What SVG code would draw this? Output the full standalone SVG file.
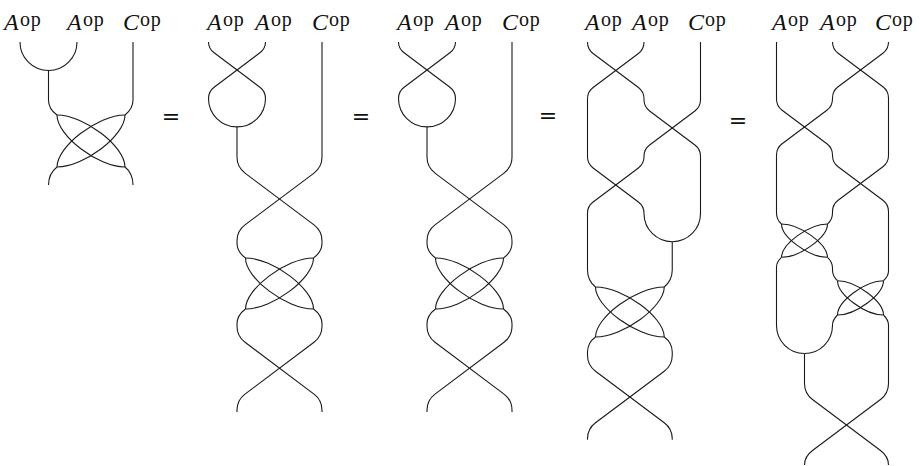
<svg xmlns="http://www.w3.org/2000/svg" xmlns:xlink="http://www.w3.org/1999/xlink" width="921" height="466" viewBox="0 0 921 466">
  <style>
    .s { fill: none; stroke: #1a1a1a; stroke-width: 1.1; stroke-linecap: butt; stroke-linejoin: round; }
    .lab { font-family: "Liberation Serif", "Times New Roman", serif; font-size: 24px; fill: #111; }
    .it { font-style: italic; }
    .sup { font-size: 20px; letter-spacing: 0.8px; }
    .eq { font-family: "DejaVu Serif", "Liberation Serif", serif; font-size: 22px; fill: #111; text-anchor: middle; }
  </style>
  <rect width="921" height="466" fill="#ffffff"/>

  <!-- Panel 1: cup, then double crossing -->
  <g id="panel1">
    <text class="lab"><tspan class="it" x="4" y="30">A</tspan><tspan class="sup" x="20" dy="-4">op</tspan></text>
    <text class="lab"><tspan class="it" x="67" y="30">A</tspan><tspan class="sup" x="83" dy="-4">op</tspan></text>
    <text class="lab"><tspan class="it" x="123" y="30">C</tspan><tspan class="sup" x="140" dy="-4">op</tspan></text>
    <g id="panel1-strands" class="s">
      <path d="M 20,42 A 28.5 28.5 0 0 0 77,42"/>
      <path d="M 48.5,70.5 L 48.5,100 C 48.5,107 52,111.5 57,115"/>
      <path d="M 133,42 L 133,100 C 133,107 129.5,111.5 125,115"/>
      <path d="M 57,115 C 84.2,115 125,146.2 125,167"/>
      <path d="M 57,115 C 57,135.8 97.8,167 125,167"/>
      <path d="M 125,115 C 97.8,115 57,146.2 57,167"/>
      <path d="M 125,115 C 125,135.8 84.2,167 57,167"/>
      <path d="M 57,167 C 52,171 48.5,177 48.5,185"/>
      <path d="M 125,167 C 130,171 133,177 133,185"/>
    </g>
  </g>

  <text class="eq" x="171" y="124">=</text>

  <!-- Panel 2: crossing into a merge, braid, double crossing, braid -->
  <g id="panel2">
    <text class="lab"><tspan class="it" x="207" y="30">A</tspan><tspan class="sup" x="223" dy="-4">op</tspan></text>
    <text class="lab"><tspan class="it" x="255" y="30">A</tspan><tspan class="sup" x="271" dy="-4">op</tspan></text>
    <text class="lab"><tspan class="it" x="312" y="30">C</tspan><tspan class="sup" x="329" dy="-4">op</tspan></text>
    <g id="panel2-strands" class="s">
      <path d="M 208.5,42 Q 208.5,48.6 214.1,52.8 L 259.9,87.2 Q 265.5,91.4 265.5,98.4 A 28.5 28.5 0 0 1 237,126.9"/>
      <path d="M 265.5,42 Q 265.5,48.6 259.9,52.8 L 214.1,87.2 Q 208.5,91.4 208.5,98.4 A 28.5 28.5 0 0 0 237,126.9"/>
      <path d="M 237,126.9 L 237,157.1 Q 237,167.1 245,173.1 L 314,224.9 Q 322,230.9 322,240.9 L 322,243 C 322,249 319,254 313.5,258"/>
      <path d="M 322,42 L 322,157.1 Q 322,167.1 314,173.1 L 245,224.9 Q 237,230.9 237,240.9 L 237,243 C 237,249 240,254 245.5,258"/>
      <path d="M 245.5,258 C 272.7,258 313.5,288.6 313.5,309"/>
      <path d="M 245.5,258 C 245.5,278.4 286.3,309 313.5,309"/>
      <path d="M 313.5,258 C 286.3,258 245.5,288.6 245.5,309"/>
      <path d="M 313.5,258 C 313.5,278.4 272.7,309 245.5,309"/>
      <path d="M 245.5,309 C 240,313 237,318 237,324 L 237,326.3 Q 237,336.3 245,342.3 L 314,394.1 Q 322,400.1 322,410.1 L 322,412"/>
      <path d="M 313.5,309 C 319,313 322,318 322,324 L 322,326.3 Q 322,336.3 314,342.3 L 245,394.1 Q 237,400.1 237,410.1 L 237,412"/>
    </g>
  </g>

  <text class="eq" x="361" y="124">=</text>

  <!-- Panel 3: same strands as panel 2 -->
  <g id="panel3">
    <text class="lab"><tspan class="it" x="397" y="30">A</tspan><tspan class="sup" x="413" dy="-4">op</tspan></text>
    <text class="lab"><tspan class="it" x="445" y="30">A</tspan><tspan class="sup" x="461" dy="-4">op</tspan></text>
    <text class="lab"><tspan class="it" x="502" y="30">C</tspan><tspan class="sup" x="519" dy="-4">op</tspan></text>
    <use xlink:href="#panel2-strands" href="#panel2-strands" transform="translate(190,0)"/>
  </g>

  <text class="eq" x="548" y="123">=</text>

  <!-- Panel 4: three braids, merge, double crossing, braid -->
  <g id="panel4">
    <text class="lab"><tspan class="it" x="585" y="30">A</tspan><tspan class="sup" x="601" dy="-4">op</tspan></text>
    <text class="lab"><tspan class="it" x="632" y="30">A</tspan><tspan class="sup" x="648" dy="-4">op</tspan></text>
    <text class="lab"><tspan class="it" x="688" y="30">C</tspan><tspan class="sup" x="705" dy="-4">op</tspan></text>
    <g id="panel4-strands" class="s">
      <path d="M 587.5,42 Q 587.5,49.3 593.1,53.5 L 638.4,87.5 Q 644,91.7 644,98.7 L 644,99.8 Q 644,106.8 649.6,111 L 694.9,145 Q 700.5,149.2 700.5,156.2 L 700.5,213.5 A 28.25 28.25 0 0 1 672.25,241.75"/>
      <path d="M 644,42 Q 644,49.3 638.4,53.5 L 593.1,87.5 Q 587.5,91.7 587.5,98.7 L 587.5,156.8 Q 587.5,163.8 593.1,168 L 638.4,202 Q 644,206.2 644,213.2 L 644,213.5 A 28.25 28.25 0 0 0 672.25,241.75"/>
      <path d="M 700.5,42 L 700.5,99.8 Q 700.5,106.8 694.9,111 L 649.6,145 Q 644,149.2 644,156.2 L 644,156.8 Q 644,163.8 638.4,168 L 593.1,202 Q 587.5,206.2 587.5,213.2 L 587.5,270 C 587.5,277 590.5,283 595.5,287"/>
      <path d="M 672.25,241.75 L 672.25,270 C 672.25,277 669,283 664.25,287"/>
      <path d="M 595.5,287 C 623,287 664.25,317 664.25,337"/>
      <path d="M 595.5,287 C 595.5,307 636.75,337 664.25,337"/>
      <path d="M 664.25,287 C 636.75,287 595.5,317 595.5,337"/>
      <path d="M 664.25,287 C 664.25,307 623,337 595.5,337"/>
      <path d="M 595.5,337 C 590,341 587.5,346 587.5,352 L 587.5,355.2 Q 587.5,365.2 595.5,371.2 L 664.25,422.8 Q 672.25,428.8 672.25,438.8 L 672.25,439.8"/>
      <path d="M 664.25,337 C 669.75,341 672.25,346 672.25,352 L 672.25,355.2 Q 672.25,365.2 664.25,371.2 L 595.5,422.8 Q 587.5,428.8 587.5,438.8 L 587.5,439.8"/>
    </g>
  </g>

  <text class="eq" x="738" y="128">=</text>

  <!-- Panel 5: three braids, two double crossings, merge, braid -->
  <g id="panel5">
    <text class="lab"><tspan class="it" x="772" y="30">A</tspan><tspan class="sup" x="788" dy="-4">op</tspan></text>
    <text class="lab"><tspan class="it" x="820" y="30">A</tspan><tspan class="sup" x="836" dy="-4">op</tspan></text>
    <text class="lab"><tspan class="it" x="875" y="30">C</tspan><tspan class="sup" x="892" dy="-4">op</tspan></text>
    <g id="panel5-strands" class="s">
      <path d="M 776.5,42 L 776.5,99 Q 776.5,106 782.1,110.2 L 826.9,143.8 Q 832.5,148 832.5,155 L 832.5,155.5 Q 832.5,162.5 838.1,166.7 L 882.9,200.3 Q 888.5,204.5 888.5,211.5 L 888.5,271 C 888.5,275 886.5,278 883.5,280.7"/>
      <path d="M 832.5,42 Q 832.5,49 838.1,53.2 L 882.9,86.8 Q 888.5,91 888.5,98 L 888.5,155.5 Q 888.5,162.5 882.9,166.7 L 838.1,200.3 Q 832.5,204.5 832.5,211.5 L 832.5,213 C 832.5,218 830.5,221.5 827.5,224"/>
      <path d="M 888.5,42 Q 888.5,49 882.9,53.2 L 838.1,86.8 Q 832.5,91 832.5,98 L 832.5,99 Q 832.5,106 826.9,110.2 L 782.1,143.8 Q 776.5,148 776.5,155 L 776.5,213 C 776.5,218 778.5,221.5 781.5,224"/>
      <path d="M 781.5,224 C 799.9,224 827.5,244 827.5,257.3"/>
      <path d="M 781.5,224 C 781.5,237.3 809.1,257.3 827.5,257.3"/>
      <path d="M 827.5,224 C 809.1,224 781.5,244 781.5,257.3"/>
      <path d="M 827.5,224 C 827.5,237.3 799.9,257.3 781.5,257.3"/>
      <path d="M 781.5,257.3 C 778.5,260 776.5,263 776.5,267 L 776.5,325.5 A 28 28 0 0 0 804.5,353.5"/>
      <path d="M 827.5,257.3 C 830.5,260 832.5,263.5 832.5,268 L 832.5,270 C 832.5,274.5 834.5,278 837.5,280.7"/>
      <path d="M 837.5,280.7 C 855.9,280.7 883.5,301.3 883.5,315"/>
      <path d="M 837.5,280.7 C 837.5,294.4 865.1,315 883.5,315"/>
      <path d="M 883.5,280.7 C 865.1,280.7 837.5,301.3 837.5,315"/>
      <path d="M 883.5,280.7 C 883.5,294.4 855.9,315 837.5,315"/>
      <path d="M 837.5,315 C 834.5,318 832.5,321 832.5,325 L 832.5,325.5 A 28 28 0 0 1 804.5,353.5"/>
      <path d="M 804.5,353.5 L 804.5,383.5 Q 804.5,393.5 812.5,399.5 L 880.5,450.5 Q 888.5,456.5 888.5,465"/>
      <path d="M 883.5,315 C 886.5,318 888.5,321 888.5,325 L 888.5,383.5 Q 888.5,393.5 880.5,399.5 L 812.5,450.5 Q 804.5,456.5 804.5,465"/>
    </g>
  </g>
</svg>
